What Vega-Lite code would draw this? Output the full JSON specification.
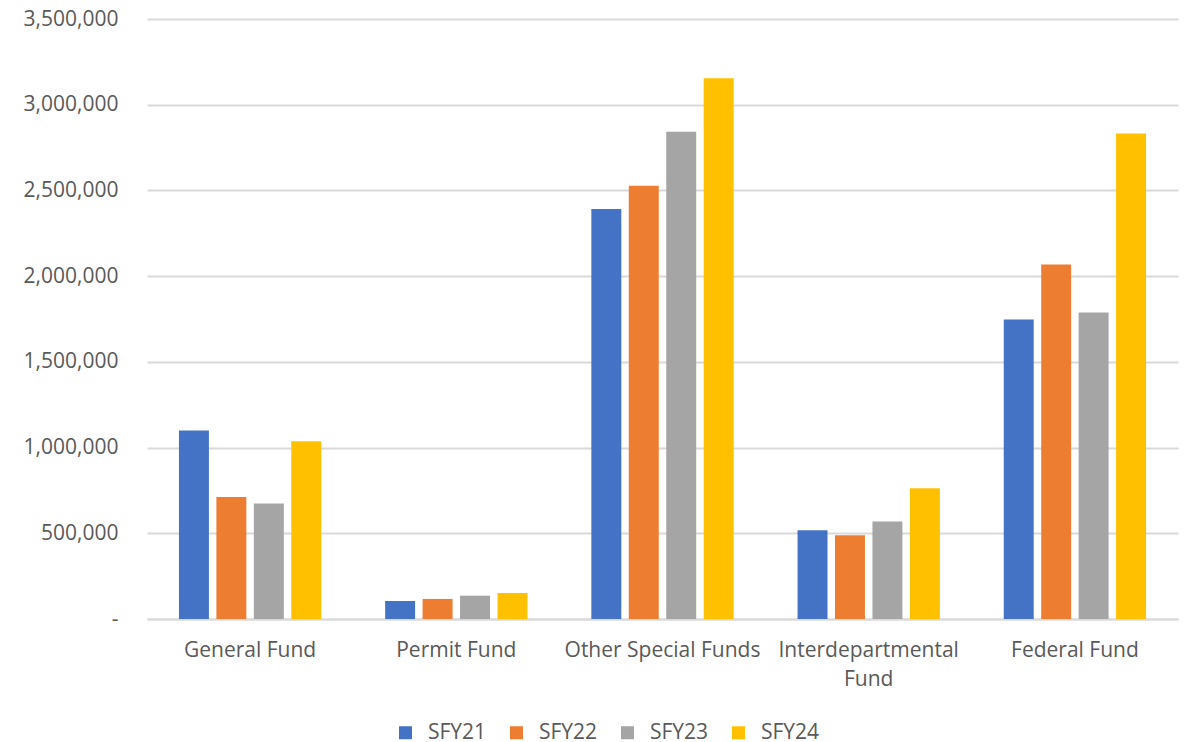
{
  "$schema": "https://vega.github.io/schema/vega-lite/v6.json",
  "width": 1031,
  "height": 600,
  "autosize": "none",
  "padding": {"left": 147, "top": 19, "right": 11, "bottom": 123},
  "background": "white",
  "data": {
    "values": [
      {"fund": "General Fund", "year": "SFY21", "amount": 1100000},
      {"fund": "General Fund", "year": "SFY22", "amount": 712000},
      {"fund": "General Fund", "year": "SFY23", "amount": 674000},
      {"fund": "General Fund", "year": "SFY24", "amount": 1037000},
      {"fund": "Permit Fund", "year": "SFY21", "amount": 105000},
      {"fund": "Permit Fund", "year": "SFY22", "amount": 117000},
      {"fund": "Permit Fund", "year": "SFY23", "amount": 136000},
      {"fund": "Permit Fund", "year": "SFY24", "amount": 152000},
      {"fund": "Other Special Funds", "year": "SFY21", "amount": 2392000},
      {"fund": "Other Special Funds", "year": "SFY22", "amount": 2528000},
      {"fund": "Other Special Funds", "year": "SFY23", "amount": 2842000},
      {"fund": "Other Special Funds", "year": "SFY24", "amount": 3155000},
      {"fund": "Interdepartmental Fund", "year": "SFY21", "amount": 517000},
      {"fund": "Interdepartmental Fund", "year": "SFY22", "amount": 489000},
      {"fund": "Interdepartmental Fund", "year": "SFY23", "amount": 569000},
      {"fund": "Interdepartmental Fund", "year": "SFY24", "amount": 763000},
      {"fund": "Federal Fund", "year": "SFY21", "amount": 1747000},
      {"fund": "Federal Fund", "year": "SFY22", "amount": 2068000},
      {"fund": "Federal Fund", "year": "SFY23", "amount": 1788000},
      {"fund": "Federal Fund", "year": "SFY24", "amount": 2832000}
    ]
  },
  "config": {
    "view": {"stroke": null},
    "font": "Open Sans",
    "axis": {"labelFont": "Open Sans", "labelColor": "#595959", "labelFontSize": 21}
  },
  "mark": {"type": "bar"},
  "encoding": {
    "x": {
      "field": "fund",
      "type": "nominal",
      "sort": ["General Fund", "Permit Fund", "Other Special Funds", "Interdepartmental Fund", "Federal Fund"],
      "scale": {"paddingInner": 0, "paddingOuter": 0},
      "axis": {
        "title": null,
        "labelAngle": 0,
        "ticks": false,
        "domainColor": "#D9D9D9",
        "domainWidth": 2,
        "labelPadding": 20,
        "labelLineHeight": 29,
        "labelLimit": 300,
        "labelExpr": "datum.value == 'Interdepartmental Fund' ? ['Interdepartmental', 'Fund'] : datum.value"
      }
    },
    "xOffset": {
      "field": "year",
      "type": "nominal",
      "scale": {"paddingInner": 0.2, "paddingOuter": 0.853}
    },
    "y": {
      "field": "amount",
      "type": "quantitative",
      "scale": {"domain": [0, 3500000], "nice": false},
      "axis": {
        "title": null,
        "values": [0, 500000, 1000000, 1500000, 2000000, 2500000, 3000000, 3500000],
        "domain": false,
        "ticks": false,
        "gridColor": "#D9D9D9",
        "gridWidth": 2,
        "labelPadding": 29,
        "labelExpr": "datum.value == 0 ? '-' : format(datum.value, ',')"
      }
    },
    "color": {
      "field": "year",
      "type": "nominal",
      "scale": {"domain": ["SFY21", "SFY22", "SFY23", "SFY24"], "range": ["#4472C4", "#ED7D31", "#A5A5A5", "#FFC000"]},
      "legend": {
        "title": null,
        "orient": "none",
        "direction": "horizontal",
        "legendX": 248,
        "legendY": 703,
        "symbolType": "square",
        "symbolSize": 169,
        "symbolStrokeWidth": 0,
        "symbolOpacity": 1,
        "labelFont": "Open Sans",
        "labelFontSize": 21,
        "labelColor": "#595959",
        "labelOffset": 12,
        "columnPadding": 19
      }
    }
  }
}
